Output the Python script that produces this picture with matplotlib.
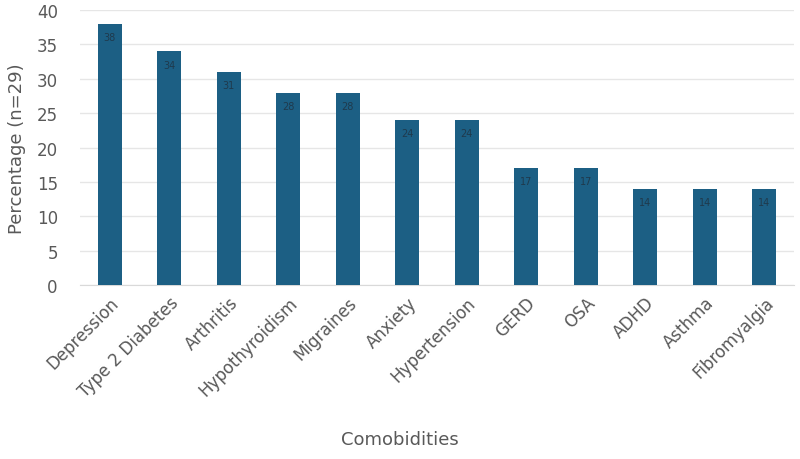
import matplotlib
matplotlib.use("Agg")
import matplotlib.pyplot as plt
import numpy as np

GRAY = "#595959"; BAR = "#1c5f84"; GRID = "#e6e6e6"
plt.rcParams.update({"font.family": "DejaVu Sans", "font.size": 12})

conditions = ["Depression", "Type 2 Diabetes", "Arthritis", "Hypothyroidism", "Migraines",
              "Anxiety", "Hypertension", "GERD", "OSA", "ADHD", "Asthma", "Fibromyalgia"]
percent = [38, 34, 31, 28, 28, 24, 24, 17, 17, 14, 14, 14]

fig = plt.figure(figsize=(8, 4.6), dpi=100)
ax = fig.add_axes([0.1, 0.378, 0.8925, 0.598])
x = np.arange(len(conditions))
bars = ax.bar(x, percent, width=0.4, color=BAR, zorder=3)
for b, v in zip(bars, percent):
    ax.text(b.get_x() + b.get_width() / 2, v - 1.2, str(v), ha="center", va="top",
            fontsize=7, color="#1f3a4d", zorder=4)

ax.set_xlim(-0.5, len(conditions) - 0.5)
ax.set_ylim(0, 40)
ax.set_yticks(range(0, 41, 5))
ax.set_xticks(x)
ax.set_xticklabels(conditions, rotation=45, ha="right", rotation_mode="anchor", color=GRAY)
ax.tick_params(axis="y", colors=GRAY, length=0, pad=16)
ax.tick_params(axis="x", colors=GRAY, length=0, pad=6)
ax.grid(axis="y", color=GRID, lw=1)
ax.set_axisbelow(True)
for s in ["top", "right", "left"]:
    ax.spines[s].set_visible(False)
ax.spines["bottom"].set_color("#d9d9d9")
ax.set_ylabel("Percentage (n=29)", color=GRAY, fontsize=13)
ax.yaxis.set_label_coords(-0.076, 0.5)
fig.text(0.5, 0.043, "Comobidities", ha="center", va="center", color=GRAY, fontsize=13)
fig.savefig("out.png", dpi=100, facecolor="white")
